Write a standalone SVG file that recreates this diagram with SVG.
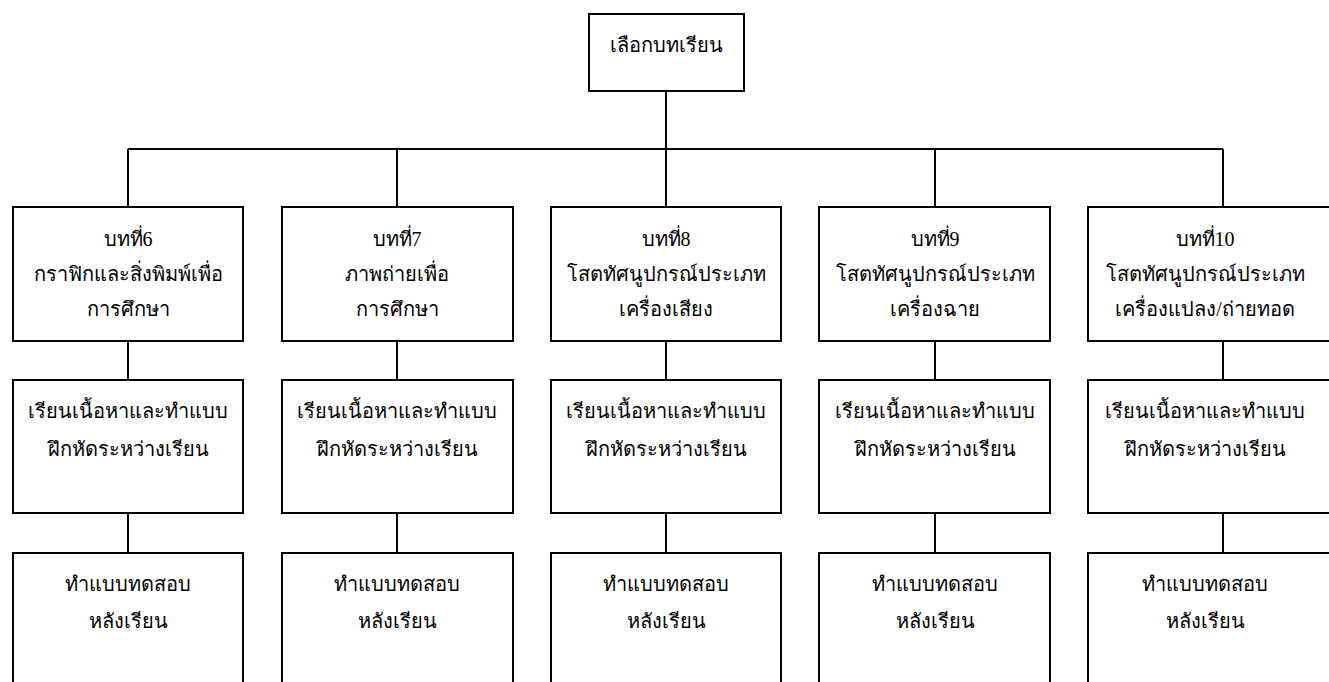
<svg xmlns="http://www.w3.org/2000/svg" width="1329" height="682" viewBox="0 0 1329 682">
<style>
.box{fill:#fff;stroke:#000;stroke-width:2}
.ln{stroke:#000;stroke-width:2;fill:none}
text{font-family:"Liberation Serif","DejaVu Serif",serif;font-size:20px;fill:#000;text-anchor:middle}
</style>
<rect width="1329" height="682" fill="#fff"/>
<g id="connectors">
<path class="ln" d="M666 91V149M128 149H1223M128 149V207M397 149V207M666 149V207M935 149V207M1223 149V207"/>
<path class="ln" d="M128 341V380M397 341V380M666 341V380M935 341V380M1223 341V380"/>
<path class="ln" d="M128 513V553M397 513V553M666 513V553M935 513V553M1223 513V553"/>
</g>
<g id="root"><rect class="box" x="589" y="14" width="155" height="77"/><text x="666" y="52">เลือกบทเรียน</text></g>
<g id="ch6"><rect class="box" x="13" y="207" width="230" height="134"/><text x="128" y="246">บทที่6</text><text x="128" y="281">กราฟิกและสิ่งพิมพ์เพื่อ</text><text x="128" y="316">การศึกษา</text></g>
<g id="ch7"><rect class="box" x="282" y="207" width="231" height="134"/><text x="397" y="246">บทที่7</text><text x="397" y="281">ภาพถ่ายเพื่อ</text><text x="397" y="316">การศึกษา</text></g>
<g id="ch8"><rect class="box" x="551" y="207" width="230" height="134"/><text x="666" y="246">บทที่8</text><text x="666" y="281">โสตทัศนูปกรณ์ประเภท</text><text x="666" y="316">เครื่องเสียง</text></g>
<g id="ch9"><rect class="box" x="819" y="207" width="231" height="134"/><text x="935" y="246">บทที่9</text><text x="935" y="281">โสตทัศนูปกรณ์ประเภท</text><text x="935" y="316">เครื่องฉาย</text></g>
<g id="ch10"><rect class="box" x="1088" y="207" width="260" height="134"/><text x="1205" y="246">บทที่10</text><text x="1205" y="281">โสตทัศนูปกรณ์ประเภท</text><text x="1205" y="316">เครื่องแปลง/ถ่ายทอด</text></g>
<g id="learn6"><rect class="box" x="13" y="380" width="230" height="133"/><text x="128" y="418">เรียนเนื้อหาและทำแบบ</text><text x="128" y="456">ฝึกหัดระหว่างเรียน</text></g>
<g id="learn7"><rect class="box" x="282" y="380" width="231" height="133"/><text x="397" y="418">เรียนเนื้อหาและทำแบบ</text><text x="397" y="456">ฝึกหัดระหว่างเรียน</text></g>
<g id="learn8"><rect class="box" x="551" y="380" width="230" height="133"/><text x="666" y="418">เรียนเนื้อหาและทำแบบ</text><text x="666" y="456">ฝึกหัดระหว่างเรียน</text></g>
<g id="learn9"><rect class="box" x="819" y="380" width="231" height="133"/><text x="935" y="418">เรียนเนื้อหาและทำแบบ</text><text x="935" y="456">ฝึกหัดระหว่างเรียน</text></g>
<g id="learn10"><rect class="box" x="1088" y="380" width="260" height="133"/><text x="1205" y="418">เรียนเนื้อหาและทำแบบ</text><text x="1205" y="456">ฝึกหัดระหว่างเรียน</text></g>
<g id="test6"><rect class="box" x="13" y="553" width="230" height="160"/><text x="128" y="591">ทำแบบทดสอบ</text><text x="128" y="628">หลังเรียน</text></g>
<g id="test7"><rect class="box" x="282" y="553" width="231" height="160"/><text x="397" y="591">ทำแบบทดสอบ</text><text x="397" y="628">หลังเรียน</text></g>
<g id="test8"><rect class="box" x="551" y="553" width="230" height="160"/><text x="666" y="591">ทำแบบทดสอบ</text><text x="666" y="628">หลังเรียน</text></g>
<g id="test9"><rect class="box" x="819" y="553" width="231" height="160"/><text x="935" y="591">ทำแบบทดสอบ</text><text x="935" y="628">หลังเรียน</text></g>
<g id="test10"><rect class="box" x="1088" y="553" width="260" height="160"/><text x="1205" y="591">ทำแบบทดสอบ</text><text x="1205" y="628">หลังเรียน</text></g>
</svg>
